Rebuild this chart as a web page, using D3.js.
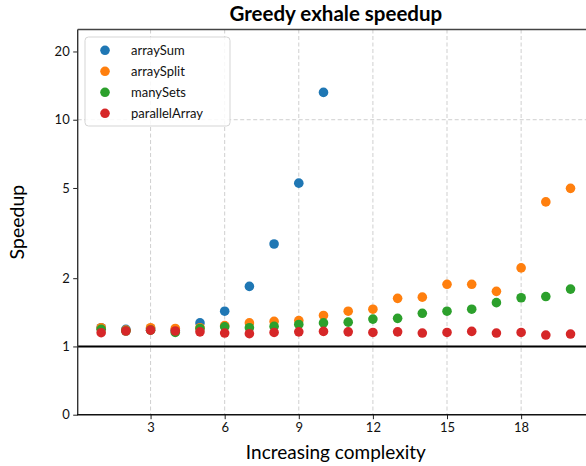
<!DOCTYPE html>
<html>
<head>
<meta charset="utf-8">
<script src="https://cdn.jsdelivr.net/npm/d3@7"></script>
<style>
  html, body { margin: 0; padding: 0; background: #fff; }
  svg { display: block; font-family: Lato, "DejaVu Sans", sans-serif; }
</style>
</head>
<body>
<svg id="chart" width="586" height="466"></svg>
<script>
// Complexity levels on the x axis
const complexity = [1, 2, 3, 4, 5, 6, 7, 8, 9, 10, 11, 12, 13, 14, 15, 16, 17, 18, 19, 20];

// Speedup per benchmark (arraySum stops after level 10)
const arraySum      = [1.21, 1.19, 1.20, 1.18, 1.27, 1.43, 1.84, 2.83, 5.25, 13.2];
const arraySplit    = [1.21, 1.18, 1.21, 1.20, 1.21, 1.235, 1.27, 1.29, 1.30, 1.37,
                       1.43, 1.46, 1.63, 1.65, 1.88, 1.88, 1.75, 2.22, 4.34, 4.98];
const manySets      = [1.19, 1.17, 1.18, 1.153, 1.20, 1.22, 1.21, 1.226, 1.25, 1.27,
                       1.28, 1.32, 1.33, 1.40, 1.43, 1.46, 1.56, 1.64, 1.66, 1.79];
const parallelArray = [1.15, 1.17, 1.18, 1.17, 1.16, 1.146, 1.138, 1.153, 1.16, 1.165,
                       1.16, 1.153, 1.16, 1.146, 1.153, 1.165, 1.146, 1.153, 1.123, 1.134];

const seriesNames  = ["arraySum", "arraySplit", "manySets", "parallelArray"];
const seriesValues = [arraySum, arraySplit, manySets, parallelArray];
const seriesColors = ["#1f77b4", "#ff7f0e", "#2ca02c", "#d62728"];

const xTicks = [3, 6, 9, 12, 15, 18];
const yTicks = [0, 1, 2, 5, 10, 20];
const yGrid  = [1, 10];
const yMax   = 25;

const svg = d3.select("#chart");
const plotL = 77.7, plotR = 594, plotT = 29.5, plotB = 414.7;

// x: linear with a small margin around the data range
const x = d3.scaleLinear().domain([0.05, 20.95]).range([plotL, plotR]);

// y: linear between 0 and 1, base-2 logarithmic above 1
const fwd = v => v <= 1 ? v : 1 + Math.log2(v);
const yT = d3.scaleLinear().domain([0, fwd(yMax)]).range([plotB, plotT]);
const y = v => yT(fwd(v));

svg.append("defs").append("clipPath").attr("id", "plot-clip")
  .append("rect").attr("x", plotL).attr("y", plotT)
  .attr("width", plotR - plotL).attr("height", plotB - plotT);

// grid
const grid = svg.append("g").attr("stroke", "#cfcfcf").attr("stroke-width", 1)
  .attr("stroke-dasharray", "4,2.5");
grid.selectAll("line.v").data(xTicks).join("line")
  .attr("x1", d => x(d)).attr("x2", d => x(d))
  .attr("y1", plotT).attr("y2", plotB);
grid.selectAll("line.h").data(yGrid).join("line")
  .attr("x1", plotL).attr("x2", plotR)
  .attr("y1", d => y(d)).attr("y2", d => y(d));

// reference line at speedup = 1
svg.append("line")
  .attr("x1", plotL).attr("x2", plotR)
  .attr("y1", y(1)).attr("y2", y(1))
  .attr("stroke", "#000").attr("stroke-width", 2);

// points
const pts = svg.append("g").attr("clip-path", "url(#plot-clip)");
seriesValues.forEach((vals, si) => {
  pts.append("g").selectAll("circle")
    .data(vals.map((v, i) => ({ x: complexity[i], v })))
    .join("circle")
    .attr("cx", d => x(d.x))
    .attr("cy", d => y(d.v))
    .attr("r", 4.8)
    .attr("fill", seriesColors[si]);
});

// axes
const xAxis = svg.append("g").attr("transform", `translate(0,${plotB})`)
  .call(d3.axisBottom(x).tickValues(xTicks).tickSize(4.5).tickPadding(3.5));
const yAxis = svg.append("g").attr("transform", `translate(${plotL},0)`)
  .call(d3.axisLeft(yT).tickValues(yTicks.map(fwd))
    .tickFormat((d, i) => yTicks[i]).tickSize(4.5).tickPadding(3.5));
[xAxis, yAxis].forEach(a => {
  a.selectAll("text").attr("font-size", 13).attr("fill", "#111")
    .attr("font-family", "Lato, 'DejaVu Sans', sans-serif");
  a.selectAll(".tick line").attr("stroke", "#222").attr("stroke-width", 1);
});
xAxis.select(".domain").remove();
yAxis.select(".domain").remove();

// spines
svg.append("line").attr("x1", plotL).attr("x2", plotL).attr("y1", plotT).attr("y2", plotB)
  .attr("stroke", "#333").attr("stroke-width", 1.4);
svg.append("line").attr("x1", plotL).attr("x2", plotR).attr("y1", plotT).attr("y2", plotT)
  .attr("stroke", "#444").attr("stroke-width", 1.4);
svg.append("line").attr("x1", plotL - 0.7).attr("x2", plotR).attr("y1", plotB).attr("y2", plotB)
  .attr("stroke", "#111").attr("stroke-width", 1.6);

// title and axis labels
svg.append("text").attr("x", (plotL + plotR) / 2).attr("y", 21)
  .attr("text-anchor", "middle").attr("font-size", 20.5).attr("font-weight", "bold")
  .text("Greedy exhale speedup");
svg.append("text").attr("x", (plotL + plotR) / 2).attr("y", 459)
  .attr("text-anchor", "middle").attr("font-size", 19)
  .text("Increasing complexity");
svg.append("text")
  .attr("transform", `translate(24,${(plotT + plotB) / 2}) rotate(-90)`)
  .attr("text-anchor", "middle").attr("font-size", 19.5)
  .text("Speedup");

// legend
const lg = svg.append("g").attr("transform", "translate(85,37)");
lg.append("rect").attr("width", 145).attr("height", 89).attr("rx", 3.5)
  .attr("fill", "rgba(255,255,255,0.85)").attr("stroke", "#d5d5d5").attr("stroke-width", 1);
seriesNames.forEach((name, i) => {
  const row = lg.append("g").attr("transform", `translate(0,${13.3 + i * 21})`);
  row.append("circle").attr("cx", 20).attr("cy", 0).attr("r", 4.8).attr("fill", seriesColors[i]);
  row.append("text").attr("x", 46).attr("y", 4.5).attr("font-size", 13).attr("fill", "#111")
    .text(name);
});
</script>
</body>
</html>
